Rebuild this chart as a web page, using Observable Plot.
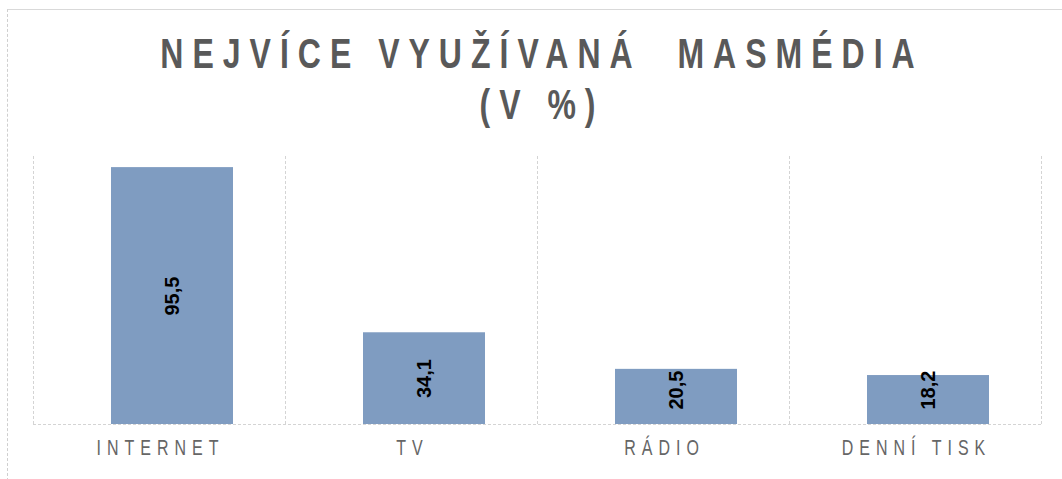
<!DOCTYPE html>
<html>
<head>
<meta charset="utf-8">
<script src="https://cdn.jsdelivr.net/npm/d3@7"></script>
<script src="https://cdn.jsdelivr.net/npm/@observablehq/plot@0.6"></script>
<style>
  html, body { margin: 0; padding: 0; background: #fff; }
  #wrap { position: relative; width: 1062px; height: 479px; overflow: hidden; }
  #frame { position: absolute; left: 7px; top: 9px; right: -2px; bottom: -2px;
           border-top: 1px solid #d9d9d9; border-left: 1px dashed #cfcfcf; }
  #title { position: absolute; left: 0; top: 29px; width: 1062px; box-sizing: border-box;
           padding-left: 22px; text-align: center; color: #595959;
           font-family: "Liberation Sans", Arial, sans-serif;
           font-weight: bold; font-size: 32px; line-height: 39.2px; letter-spacing: 9px; white-space: pre;
           transform: scaleY(1.3); transform-origin: 50% 0; }
  #chart { position: absolute; left: 0; top: 140px; }
  #chart g[aria-label="x-axis tick label"] text { letter-spacing: 6px; }
</style>
</head>
<body>
<div id="wrap">
  <div id="frame"></div>
  <div id="title"></div>
  <div id="chart"></div>
</div>
<script>
const titleLines = ["NEJVÍCE VYUŽÍVANÁ  MASMÉDIA", "(V %)"];
const categories = ["INTERNET", "TV", "RÁDIO", "DENNÍ TISK"];
const values = [95.5, 34.1, 20.5, 18.2];

document.getElementById("title").textContent = titleLines.join("\n");

const data = categories.map((c, i) => ({cat: c, value: values[i]}));

const W = 1062, H = 339;
const mL = 33, mR = 21, mT = 15, mB = 55;
const band = (W - mL - mR) / categories.length;
const gridStyle = {stroke: "#d4d4d4", strokeDasharray: "3,2", strokeWidth: 1};

const chart = Plot.plot({
  width: W,
  height: H,
  marginLeft: mL,
  marginRight: mR,
  marginTop: mT,
  marginBottom: mB,
  x: {domain: categories, padding: 0, label: null},
  y: {domain: [0, 100], axis: null},
  marks: [
    Plot.ruleX(categories, {x: d => d, y1: 0, y2: 100, dx: -band / 2, ...gridStyle}),
    Plot.ruleX([categories[categories.length - 1]], {x: d => d, y1: 0, y2: 100, dx: band / 2, ...gridStyle}),
    Plot.barY(data, {x: "cat", y: "value", fill: "#7f9cc1", insetLeft: 78, insetRight: 52}),
    Plot.ruleY([0], gridStyle),
    Plot.text(data, {
      x: "cat",
      y: d => Math.max(d.value / 2, 12.8),
      text: d => d.value.toFixed(1).replace(".", ","),
      rotate: -90,
      dx: 13,
      fontSize: 20,
      fontWeight: "bold",
      fill: "#000",
      fontFamily: "Liberation Sans, Arial, sans-serif"
    }),
    Plot.axisX({
      tickSize: 0,
      tickPadding: 17,
      fontSize: 16,
      fill: "#666",
      dx: 1,
      fontFamily: "Liberation Sans, Arial, sans-serif",
      label: null
    })
  ]
});
document.getElementById("chart").appendChild(chart);

// stretch tick labels vertically around their own centre (as in the reference)
d3.select(chart).selectAll('g[aria-label="x-axis tick label"] text').each(function() {
  const b = this.getBBox();
  const cy = b.y + b.height / 2;
  const t = this.getAttribute("transform") || "";
  this.setAttribute("transform", `${t} translate(0,${cy}) scale(1,1.4) translate(0,${-cy})`);
});
</script>
</body>
</html>
